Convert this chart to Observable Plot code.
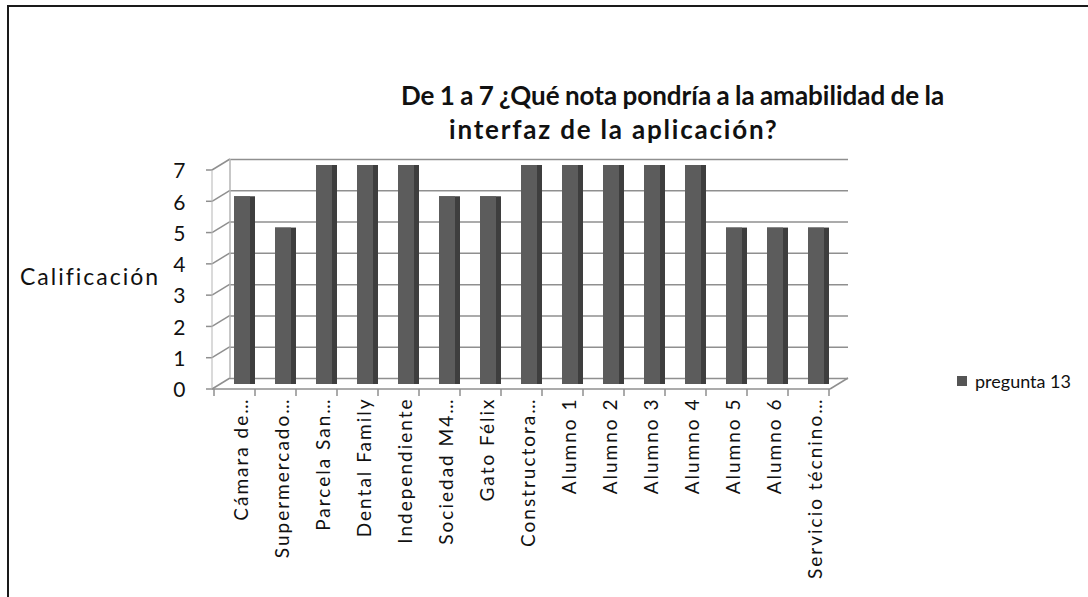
<!DOCTYPE html>
<html>
<head>
<meta charset="utf-8">
<script src="https://cdn.jsdelivr.net/npm/d3@7"></script>
<script src="https://cdn.jsdelivr.net/npm/@observablehq/plot@0.6"></script>
<style>
  html, body { margin: 0; padding: 0; background: #fff; }
  #page { position: relative; width: 1088px; height: 597px; overflow: hidden; font-family: Lato, "Open Sans", sans-serif; color: #111; }
  #border { position: absolute; left: 7px; top: 5px; width: 1200px; height: 700px; border-left: 2.5px solid #1a1a1a; border-top: 2.5px solid #1a1a1a; }
  #chart { position: absolute; left: 0; top: 0; }
  #chart [aria-label="x-axis tick label"] text { letter-spacing: 2px; }
  .t { position: absolute; white-space: nowrap; }
  #title1 { left: 401px; top: 79px; font-size: 26px; font-weight: bold; word-spacing: -1px; }
  #title2 { left: 449px; top: 113px; font-size: 26px; font-weight: bold; letter-spacing: 1.8px; }
  #ylabel { left: 20px; top: 262px; font-size: 23px; letter-spacing: 2px; }
  #legend { left: 957px; top: 370px; font-size: 18px; display: flex; align-items: center; }
  #legend .sw { width: 10px; height: 10px; background: #555; margin-right: 8px; }
</style>
</head>
<body>
<div id="page">
  <div id="border"></div>
  <div id="chart"></div>
  <div class="t" id="title1">De 1 a 7 ¿Qué nota pondría a la amabilidad de la</div>
  <div class="t" id="title2">interfaz de la aplicación?</div>
  <div class="t" id="ylabel">Calificación</div>
  <div class="t" id="legend"><span class="sw"></span><span id="legendText"></span></div>
</div>
<script>
const categories = ["Cámara de…", "Supermercado…", "Parcela San…", "Dental Family", "Independiente",
  "Sociedad M4…", "Gato Félix", "Constructora…", "Alumno 1", "Alumno 2", "Alumno 3", "Alumno 4",
  "Alumno 5", "Alumno 6", "Servicio técnino…"];
const values = [6, 5, 7, 7, 7, 6, 6, 7, 7, 7, 7, 7, 5, 5, 5];
const yTicks = [0, 1, 2, 3, 4, 5, 6, 7];
const seriesName = "pregunta 13";

document.getElementById("legendText").textContent = seriesName;

const data = categories.map((c, i) => ({category: c, value: values[i]}));

function frame3d(index, scales, vals, dims) {
  const {x, y} = scales;
  const L = dims.marginLeft, R = dims.width - dims.marginRight;
  const g = d3.create("svg:g").attr("fill", "none").attr("stroke", "#8f8f8f").attr("stroke-width", 1.5);
  const fx = -10, fy = 5, bx = 8, by = -6;
  const top = yTicks[yTicks.length - 1];
  for (const v of yTicks) {
    g.append("line").attr("x1", L + fx).attr("y1", y(v) + fy).attr("x2", L + bx).attr("y2", y(v) + by);
    g.append("line").attr("x1", L + fx - 6).attr("y1", y(v) + fy).attr("x2", L + fx).attr("y2", y(v) + fy);
  }
  g.append("line").attr("x1", L + bx).attr("y1", y(0) + by).attr("x2", L + bx).attr("y2", y(top) + by).attr("stroke", "#b5b5b5");
  g.append("line").attr("x1", L + fx).attr("y1", y(0) + fy).attr("x2", L + fx).attr("y2", y(top) + fy).attr("stroke", "#b5b5b5").attr("stroke-width", 1);
  g.append("line").attr("x1", L + fx).attr("y1", y(0) + fy).attr("x2", R + fx).attr("y2", y(0) + fy);
  g.append("line").attr("x1", R + fx).attr("y1", y(0) + fy).attr("x2", R + bx).attr("y2", y(0) + by);
  const gap = (x.step() - x.bandwidth()) / 2;
  const bounds = x.domain().map(d => x(d) - gap);
  bounds.push(x(x.domain()[x.domain().length - 1]) + x.bandwidth() + gap);
  for (const b of bounds) {
    g.append("line").attr("x1", b + fx).attr("y1", y(0) + fy).attr("x2", b + fx).attr("y2", y(0) + fy + 7);
  }
  return g.node();
}

const chart = Plot.plot({
  width: 1088,
  height: 597,
  marginLeft: 222,
  marginRight: 248,
  marginTop: 165,
  marginBottom: 213,
  style: {fontFamily: "Lato, 'Open Sans', sans-serif", color: "#111", background: "transparent"},
  x: {domain: categories, paddingInner: 0.5, paddingOuter: 0.25},
  y: {domain: [0, 7]},
  marks: [
    Plot.ruleY(yTicks, {y: d => d, dx: 8, dy: -6, stroke: "#8f8f8f", strokeWidth: 1.5}),
    frame3d,
    Plot.barY(data, {x: "category", y: "value", fill: "#3e3e3e"}),
    Plot.barY(data, {x: "category", y: "value", fill: "#5c5c5c", insetRight: 5}),
    Plot.axisY(yTicks, {tickSize: 0, tickPadding: 37, dy: 6, fontSize: 21, tickFormat: d => d, label: null}),
    Plot.axisX({tickRotate: -90, tickSize: 0, tickPadding: 13, dx: -3, fontSize: 19, label: null})
  ]
});
document.getElementById("chart").appendChild(chart);
</script>
</body>
</html>
